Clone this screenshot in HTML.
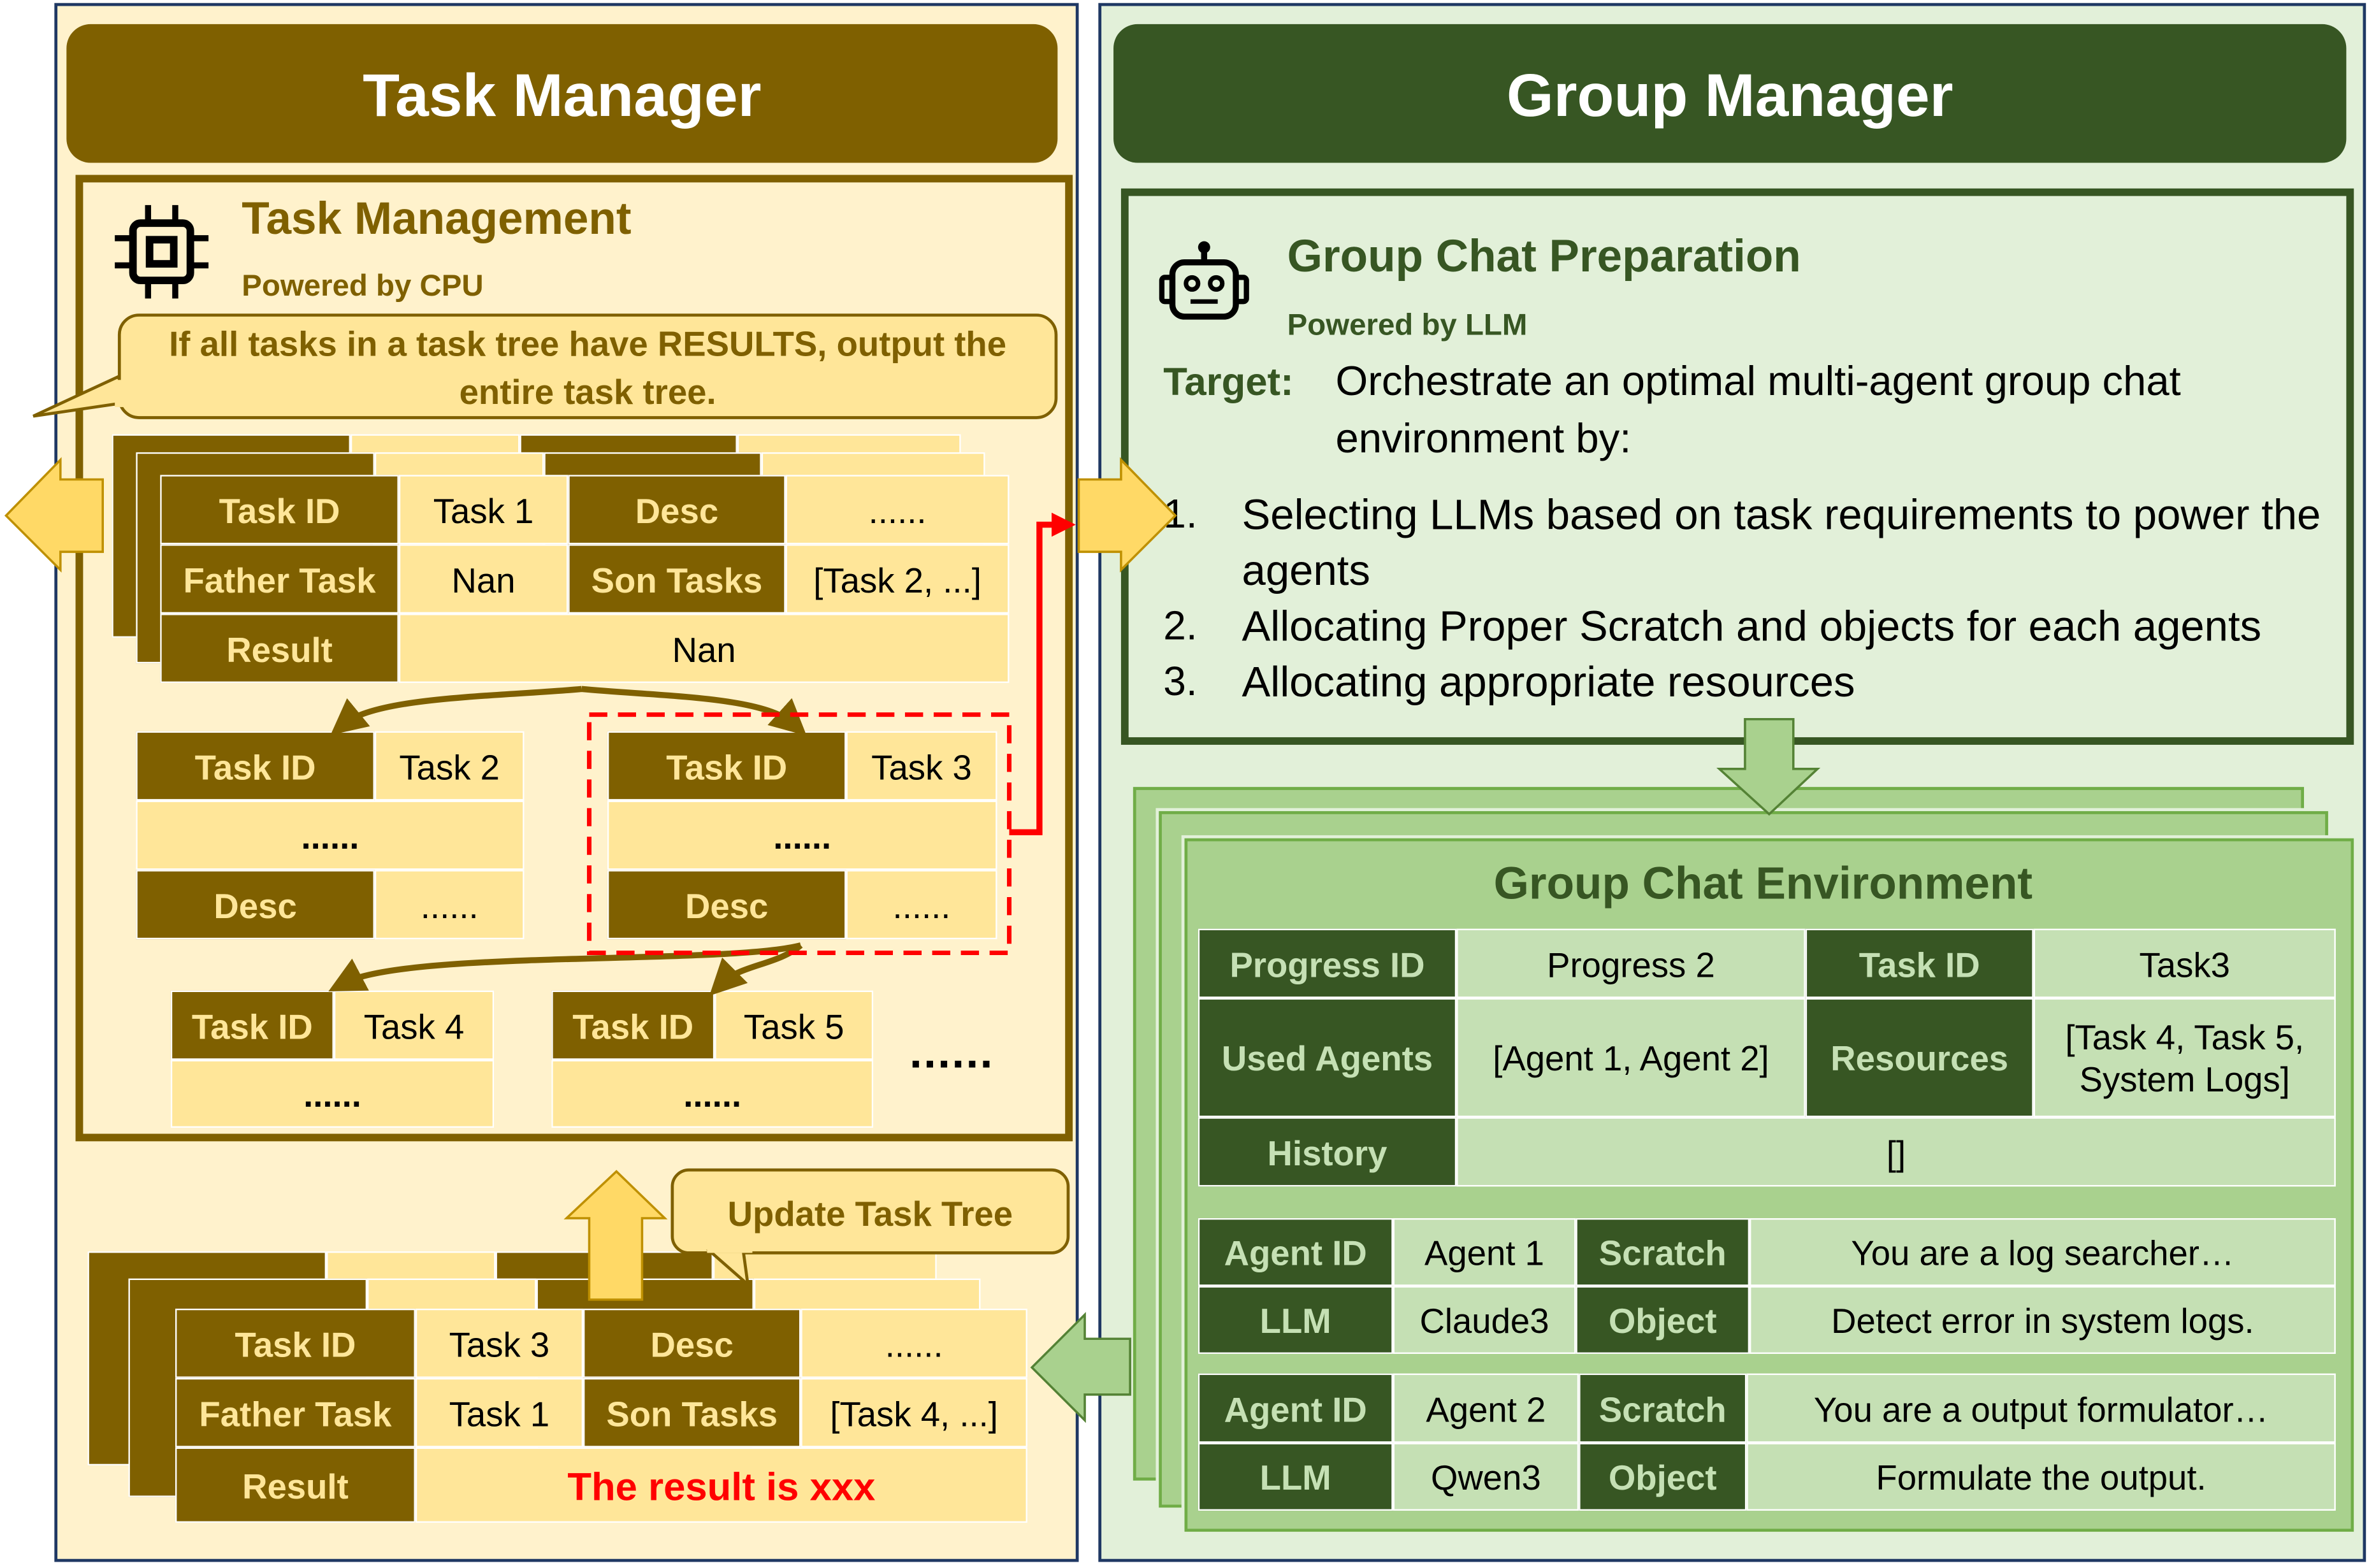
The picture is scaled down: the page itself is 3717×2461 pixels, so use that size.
<!DOCTYPE html>
<html><head><meta charset="utf-8">
<style>
html,body{margin:0;padding:0;background:#fff;}
body{width:3717px;height:2461px;overflow:hidden;position:relative;}
#w{position:absolute;left:0;top:0;width:1568px;height:1040px;transform-origin:0 0;transform:scale(2.3705,2.3663);font-family:"Liberation Sans",sans-serif;}
.a{position:absolute;box-sizing:border-box;}
.c{position:absolute;box-sizing:border-box;display:flex;align-items:center;justify-content:center;text-align:center;font-size:23px;border:1.5px solid #fff;line-height:1.2;padding-top:3px;}
.d{background:#7F6000;color:#FFE699;font-weight:bold;}
.l{background:#FFE699;color:#000;}
.g{background:#375623;color:#C5E0B4;font-weight:bold;}
.h{background:#C5E0B4;color:#000;}
</style></head><body><div id="w">

<!-- LEFT PANEL -->
<div class="a" style="left:36px;top:2px;width:678px;height:1034px;background:#FFF2CC;border:2px solid #1F3864;"></div>
<div class="a" style="left:44px;top:16px;width:656px;height:92px;background:#7F6000;border-radius:16px;color:#fff;font-weight:bold;font-size:40px;display:flex;align-items:center;justify-content:center;padding-top:4px;">Task Manager</div>
<div class="a" style="left:50px;top:116px;width:660px;height:641px;border:5px solid #7F6000;"></div>

<svg class="a" style="left:74px;top:134px" width="66" height="66" viewBox="0 0 66 66">
<rect x="14" y="14" width="38" height="38" rx="5" fill="none" stroke="#000" stroke-width="5"/>
<rect x="25" y="25" width="16" height="16" fill="none" stroke="#000" stroke-width="5"/>
<g stroke="#000" stroke-width="4"><line x1="24" y1="2" x2="24" y2="14"/><line x1="42" y1="2" x2="42" y2="14"/><line x1="24" y1="52" x2="24" y2="64"/><line x1="42" y1="52" x2="42" y2="64"/><line x1="2" y1="24" x2="14" y2="24"/><line x1="2" y1="42" x2="14" y2="42"/><line x1="52" y1="24" x2="64" y2="24"/><line x1="52" y1="42" x2="64" y2="42"/></g></svg>
<div class="a" style="left:160px;top:129px;font-size:30px;font-weight:bold;color:#7F6000;">Task Management</div>
<div class="a" style="left:160px;top:179px;font-size:20px;font-weight:bold;color:#7F6000;">Powered by CPU</div>

<svg class="a" style="left:0;top:0;overflow:visible" width="1568" height="1040">
<path d="M78 250 L22 276 L90 266 Z" fill="#FFE699" stroke="#7F6000" stroke-width="2"/>
</svg>
<div class="a" style="left:78px;top:208px;width:622px;height:70px;background:#FFE699;border:2px solid #7F6000;border-radius:14px;color:#7F6000;font-weight:bold;font-size:23px;display:flex;align-items:center;justify-content:center;text-align:center;line-height:1.38;padding-top:3px;">If all tasks in a task tree have RESULTS, output the<br>entire task tree.</div>
<div class="a" style="left:76px;top:252px;width:6px;height:18px;background:#FFE699;"></div>

<div class="c d" style="left:74px;top:288px;width:158px;height:135px;"></div>
<div class="c l" style="left:232px;top:288px;width:112px;height:135px;"></div>
<div class="c d" style="left:344px;top:288px;width:144px;height:135px;"></div>
<div class="c l" style="left:488px;top:288px;width:148px;height:135px;"></div>
<div class="c d" style="left:90px;top:300px;width:158px;height:140px;"></div>
<div class="c l" style="left:248px;top:300px;width:112px;height:140px;"></div>
<div class="c d" style="left:360px;top:300px;width:144px;height:140px;"></div>
<div class="c l" style="left:504px;top:300px;width:148px;height:140px;"></div>
<div class="c d" style="left:106px;top:315px;width:158px;height:46px;">Task ID</div>
<div class="c l" style="left:264px;top:315px;width:112px;height:46px;">Task 1</div>
<div class="c d" style="left:376px;top:315px;width:144px;height:46px;">Desc</div>
<div class="c l" style="left:520px;top:315px;width:148px;height:46px;">......</div>
<div class="c d" style="left:106px;top:361px;width:158px;height:46px;">Father Task</div>
<div class="c l" style="left:264px;top:361px;width:112px;height:46px;">Nan</div>
<div class="c d" style="left:376px;top:361px;width:144px;height:46px;">Son Tasks</div>
<div class="c l" style="left:520px;top:361px;width:148px;height:46px;">[Task 2, ...]</div>
<div class="c d" style="left:106px;top:407px;width:158px;height:46px;">Result</div>
<div class="c l" style="left:264px;top:407px;width:404px;height:46px;">Nan</div>

<div class="c d" style="left:90px;top:485px;width:158px;height:46px;">Task ID</div>
<div class="c l" style="left:248px;top:485px;width:99px;height:46px;">Task 2</div>
<div class="c l" style="left:90px;top:531px;width:257px;height:46px;font-weight:bold;">......</div>
<div class="c d" style="left:90px;top:577px;width:158px;height:46px;">Desc</div>
<div class="c l" style="left:248px;top:577px;width:99px;height:46px;">......</div>
<div class="c d" style="left:402px;top:485px;width:158px;height:46px;">Task ID</div>
<div class="c l" style="left:560px;top:485px;width:100px;height:46px;">Task 3</div>
<div class="c l" style="left:402px;top:531px;width:258px;height:46px;font-weight:bold;">......</div>
<div class="c d" style="left:402px;top:577px;width:158px;height:46px;">Desc</div>
<div class="c l" style="left:560px;top:577px;width:100px;height:46px;">......</div>
<div class="c d" style="left:113px;top:657px;width:108px;height:46px;">Task ID</div>
<div class="c l" style="left:221px;top:657px;width:106px;height:46px;">Task 4</div>
<div class="c l" style="left:113px;top:703px;width:214px;height:45px;font-weight:bold;">......</div>
<div class="c d" style="left:365px;top:657px;width:108px;height:46px;">Task ID</div>
<div class="c l" style="left:473px;top:657px;width:105px;height:46px;">Task 5</div>
<div class="c l" style="left:365px;top:703px;width:213px;height:45px;font-weight:bold;">......</div>
<div class="a" style="left:602px;top:682px;font-size:30px;font-weight:bold;letter-spacing:1px;">......</div>

<div class="c d" style="left:58px;top:830px;width:158px;height:142px;"></div>
<div class="c l" style="left:216px;top:830px;width:112px;height:142px;"></div>
<div class="c d" style="left:328px;top:830px;width:144px;height:142px;"></div>
<div class="c l" style="left:472px;top:830px;width:148px;height:142px;"></div>
<div class="c d" style="left:85px;top:848px;width:158px;height:145px;"></div>
<div class="c l" style="left:243px;top:848px;width:112px;height:145px;"></div>
<div class="c d" style="left:355px;top:848px;width:144px;height:145px;"></div>
<div class="c l" style="left:499px;top:848px;width:150px;height:145px;"></div>
<div class="c d" style="left:116px;top:868px;width:159px;height:46px;">Task ID</div>
<div class="c l" style="left:275px;top:868px;width:111px;height:46px;">Task 3</div>
<div class="c d" style="left:386px;top:868px;width:144px;height:46px;">Desc</div>
<div class="c l" style="left:530px;top:868px;width:150px;height:46px;">......</div>
<div class="c d" style="left:116px;top:914px;width:159px;height:46px;">Father Task</div>
<div class="c l" style="left:275px;top:914px;width:111px;height:46px;">Task 1</div>
<div class="c d" style="left:386px;top:914px;width:144px;height:46px;">Son Tasks</div>
<div class="c l" style="left:530px;top:914px;width:150px;height:46px;">[Task 4, ...]</div>
<div class="c d" style="left:116px;top:960px;width:159px;height:50px;">Result</div>
<div class="c l" style="left:275px;top:960px;width:405px;height:50px;color:#FF0000;font-weight:bold;font-size:26px;">The result is xxx</div>

<div class="a" style="left:444px;top:775px;width:264px;height:57px;background:#FFE699;border:2px solid #7F6000;border-radius:12px;color:#7F6000;font-weight:bold;font-size:23px;display:flex;align-items:center;justify-content:center;padding-top:3px;">Update Task Tree</div>

<!-- RIGHT PANEL -->
<div class="a" style="left:727px;top:2px;width:839px;height:1034px;background:#E2F0D9;border:2px solid #1F3864;"></div>
<div class="a" style="left:737px;top:16px;width:816px;height:92px;background:#375623;border-radius:16px;color:#fff;font-weight:bold;font-size:40px;display:flex;align-items:center;justify-content:center;padding-top:4px;">Group Manager</div>
<div class="a" style="left:742px;top:125px;width:816px;height:369px;border:5px solid #375623;background:#E2F0D9;"></div>
<svg class="a" style="left:766px;top:158px" width="62" height="58" viewBox="0 0 62 58">
<line x1="31" y1="4" x2="31" y2="16" stroke="#000" stroke-width="4"/><circle cx="31" cy="6" r="4" fill="#000"/>
<rect x="10" y="16" width="42" height="36" rx="8" fill="none" stroke="#000" stroke-width="4"/>
<rect x="3" y="26" width="7" height="16" rx="2" fill="none" stroke="#000" stroke-width="3.5"/>
<rect x="52" y="26" width="7" height="16" rx="2" fill="none" stroke="#000" stroke-width="3.5"/>
<circle cx="23" cy="30" r="4" fill="none" stroke="#000" stroke-width="3"/><circle cx="39" cy="30" r="4" fill="none" stroke="#000" stroke-width="3"/>
<line x1="22" y1="42" x2="40" y2="42" stroke="#000" stroke-width="3"/></svg>
<div class="a" style="left:852px;top:154px;font-size:30px;font-weight:bold;color:#375623;">Group Chat Preparation</div>
<div class="a" style="left:852px;top:205px;font-size:20px;font-weight:bold;color:#375623;">Powered by LLM</div>
<div class="a" style="left:770px;top:238px;font-size:26px;font-weight:bold;color:#375623;">Target:</div>
<div class="a" style="left:884px;top:234px;font-size:27.5px;line-height:38px;">Orchestrate an optimal multi-agent group chat<br>environment by:</div>
<div class="a" style="left:770px;top:323px;font-size:27px;line-height:37px;">1.<br><br>2.<br>3.</div>
<div class="a" style="left:822px;top:323px;font-size:28.3px;line-height:37px;white-space:nowrap;">Selecting LLMs based on task requirements to power the<br>agents<br>Allocating Proper Scratch and objects for each agents<br>Allocating appropriate resources</div>

<div class="a" style="left:750px;top:522px;width:775px;height:460px;background:#A9D18E;border:2px solid #70AD47;"></div>
<div class="a" style="left:767px;top:538px;width:774px;height:462px;background:#A9D18E;border:2px solid #70AD47;outline:2px solid #E2F0D9;"></div>
<div class="a" style="left:784px;top:556px;width:774px;height:460px;background:#A9D18E;border:2px solid #70AD47;outline:2px solid #E2F0D9;"></div>
<div class="a" style="left:780px;top:570px;width:774px;text-align:center;font-size:30px;font-weight:bold;color:#375623;">Group Chat Environment</div>

<div class="c g" style="left:793px;top:616px;width:171px;height:46px;">Progress ID</div>
<div class="c h" style="left:964px;top:616px;width:231px;height:46px;">Progress 2</div>
<div class="c g" style="left:1195px;top:616px;width:151px;height:46px;">Task ID</div>
<div class="c h" style="left:1346px;top:616px;width:200px;height:46px;">Task3</div>
<div class="c g" style="left:793px;top:662px;width:171px;height:79px;">Used Agents</div>
<div class="c h" style="left:964px;top:662px;width:231px;height:79px;">[Agent 1, Agent 2]</div>
<div class="c g" style="left:1195px;top:662px;width:151px;height:79px;">Resources</div>
<div class="c h" style="left:1346px;top:662px;width:200px;height:79px;">[Task 4, Task 5,<br>System Logs]</div>
<div class="c g" style="left:793px;top:741px;width:171px;height:46px;">History</div>
<div class="c h" style="left:964px;top:741px;width:582px;height:46px;">[]</div>

<div class="c g" style="left:793px;top:808px;width:129px;height:45px;">Agent ID</div>
<div class="c h" style="left:922px;top:808px;width:121px;height:45px;">Agent 1</div>
<div class="c g" style="left:1043px;top:808px;width:115px;height:45px;">Scratch</div>
<div class="c h" style="left:1158px;top:808px;width:388px;height:45px;">You are a log searcher…</div>
<div class="c g" style="left:793px;top:853px;width:129px;height:45px;">LLM</div>
<div class="c h" style="left:922px;top:853px;width:121px;height:45px;">Claude3</div>
<div class="c g" style="left:1043px;top:853px;width:115px;height:45px;">Object</div>
<div class="c h" style="left:1158px;top:853px;width:388px;height:45px;">Detect error in system logs.</div>

<div class="c g" style="left:793px;top:911px;width:129px;height:46px;">Agent ID</div>
<div class="c h" style="left:922px;top:911px;width:123px;height:46px;">Agent 2</div>
<div class="c g" style="left:1045px;top:911px;width:111px;height:46px;">Scratch</div>
<div class="c h" style="left:1156px;top:911px;width:390px;height:46px;">You are a output formulator…</div>
<div class="c g" style="left:793px;top:957px;width:129px;height:45px;">LLM</div>
<div class="c h" style="left:922px;top:957px;width:123px;height:45px;">Qwen3</div>
<div class="c g" style="left:1045px;top:957px;width:111px;height:45px;">Object</div>
<div class="c h" style="left:1156px;top:957px;width:390px;height:45px;">Formulate the output.</div>

<svg class="a" style="left:0;top:0;overflow:visible" width="1568" height="1040">
<defs>
<marker id="bk" markerWidth="6" markerHeight="6" refX="3" refY="3" orient="auto" markerUnits="strokeWidth"><path d="M0,0 L6,3 L0,6 Z" fill="#7F6000"/></marker>
<marker id="rd" markerWidth="4" markerHeight="4" refX="2" refY="2" orient="auto" markerUnits="strokeWidth"><path d="M0,0 L4,2 L0,4 Z" fill="#FF0000"/></marker>
</defs>
<path d="M68 318 L40 318 L40 305 L4 342 L40 378 L40 366 L68 366 Z" fill="#FFD966" stroke="#BF9000" stroke-width="1.5"/>
<path d="M714 318 L742 318 L742 305 L778 342 L742 378 L742 366 L714 366 Z" fill="#FFD966" stroke="#BF9000" stroke-width="1.5"/>
<path d="M390 862 L390 808 L375 808 L408 777 L440 808 L425 808 L425 862 Z" fill="#FFD966" stroke="#BF9000" stroke-width="1.5"/>
<path d="M470 830 L495 852 L492 830 Z" fill="#FFE699" stroke="#7F6000" stroke-width="2"/>
<rect x="468" y="826" width="30" height="5" fill="#FFE699"/>
<path d="M1155 477 L1187 477 L1187 510 L1203 510 L1171 540 L1138 510 L1155 510 Z" fill="#A9D18E" stroke="#548235" stroke-width="1.5"/>
<path d="M748 888 L718 888 L718 872 L683 907 L718 942 L718 925 L748 925 Z" fill="#A9D18E" stroke="#548235" stroke-width="1.5"/>
<path d="M385 457 C330 462 250 462 228 480" fill="none" stroke="#7F6000" stroke-width="4" marker-end="url(#bk)"/>
<path d="M385 457 C440 462 505 462 525 480" fill="none" stroke="#7F6000" stroke-width="4" marker-end="url(#bk)"/>
<path d="M530 627 C480 640 270 630 228 652" fill="none" stroke="#7F6000" stroke-width="4" marker-end="url(#bk)"/>
<path d="M530 627 C515 640 490 640 478 652" fill="none" stroke="#7F6000" stroke-width="4" marker-end="url(#bk)"/>
<rect x="390" y="474" width="278" height="158" fill="none" stroke="#FF0000" stroke-width="3" stroke-dasharray="12,7"/>
<path d="M668 552 L688 552 L688 348 L704 348" fill="none" stroke="#FF0000" stroke-width="4" marker-end="url(#rd)"/>
</svg>

</div></body></html>
